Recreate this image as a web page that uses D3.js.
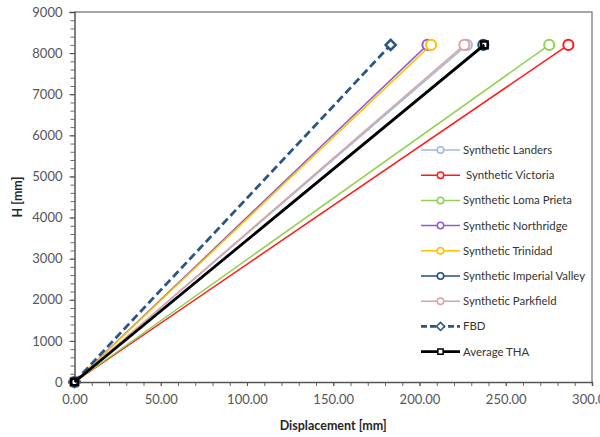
<!DOCTYPE html>
<html>
<head>
<meta charset="utf-8">
<script src="https://cdn.jsdelivr.net/npm/d3@7"></script>
<style>
  body { margin: 0; background: #fff; }
  svg { display: block; font-family: Lato, "Open Sans", sans-serif; }
</style>
</head>
<body>
<div class="chart"></div>
<script>
// data
var seriesNames = ["Synthetic Landers", "Synthetic Victoria", "Synthetic Loma Prieta",
  "Synthetic Northridge", "Synthetic Trinidad", "Synthetic Imperial Valley",
  "Synthetic Parkfield", "FBD", "Average THA"];
var heights = [0, 8200];
var displacements = [
  [0, 227.5],
  [0, 286.3],
  [0, 275.2],
  [0, 204.6],
  [0, 206.7],
  [0, 237.0],
  [0, 226.0],
  [0, 183.3],
  [0, 237.6]
];
var xTicks = [0, 50, 100, 150, 200, 250, 300];
var yTicks = [0, 1000, 2000, 3000, 4000, 5000, 6000, 7000, 8000, 9000];

// styles
var colors = ["#9dbbe0", "#ff1a1a", "#92d050", "#8e5cc8", "#ffc000", "#254e80", "#dba3a3", "#2a5585", "#000000"];
var widths = [1.5, 1.5, 1.5, 1.5, 1.5, 1.5, 1.5, 2.8, 2.8];

var svgWidth = 600;
var svgHeight = 437;
var margin = { top: 12, right: 8, bottom: 55, left: 74.5 };
var width = svgWidth - margin.left - margin.right;
var height = svgHeight - margin.top - margin.bottom;

var svg = d3.select(".chart")
  .append("svg")
  .attr("width", svgWidth)
  .attr("height", svgHeight);

var chartGroup = svg.append("g")
  .attr("transform", `translate(${margin.left}, ${margin.top})`);

var xScale = d3.scaleLinear().domain([0, 300]).range([0, width]);
var yScale = d3.scaleLinear().domain([0, 9000]).range([height, 0]);

// plot frame (top + right)
chartGroup.append("path")
  .attr("d", `M0,0H${width}V${height}`)
  .attr("fill", "none")
  .attr("stroke", "#8a8a8a")
  .attr("stroke-width", 1.5);

// minor ticks
var xMinor = d3.range(0, 301, 10);
var yMinor = d3.range(0, 9001, 200);

chartGroup.append("g")
  .attr("transform", `translate(0, ${height})`)
  .call(d3.axisBottom(xScale).tickValues(xMinor).tickSize(4).tickFormat(""))
  .call(g => g.select(".domain").remove())
  .selectAll("line").attr("stroke", "#6b6b6b");

chartGroup.append("g")
  .call(d3.axisLeft(yScale).tickValues(yMinor).tickSize(4).tickFormat(""))
  .call(g => g.select(".domain").remove())
  .selectAll("line").attr("stroke", "#6b6b6b");

// main axes
var bottomAxis = d3.axisBottom(xScale).tickValues(xTicks).tickSize(4).tickPadding(9)
  .tickFormat(d3.format(".2f"));
var leftAxis = d3.axisLeft(yScale).tickValues(yTicks).tickSize(5).tickPadding(7)
  .tickFormat(d3.format("d"));

var xAxisG = chartGroup.append("g")
  .attr("transform", `translate(0, ${height})`)
  .call(bottomAxis);
var yAxisG = chartGroup.append("g")
  .call(leftAxis);

[xAxisG, yAxisG].forEach(function(g) {
  g.select(".domain").attr("stroke", "#555").attr("stroke-width", 1.5);
  g.selectAll("line").attr("stroke", "#555");
  g.selectAll("text")
    .attr("font-family", "Lato, sans-serif")
    .attr("font-size", "13px")
    .attr("fill", "#555");
});

// series
var line = d3.line()
  .x(d => xScale(d[0]))
  .y(d => yScale(d[1]));

function markerPath(i, s) {
  if (i === 7) return d3.symbol(d3.symbolDiamond2, s * 13)();
  if (i === 8) return d3.symbol(d3.symbolSquare2, s * 11)();
  return d3.symbol(d3.symbolCircle, s * s * 3.2)();
}

seriesNames.forEach(function(name, i) {
  var pts = displacements[i].map((x, j) => [x, heights[j]]);
  var g = chartGroup.append("g");
  g.append("path")
    .datum(pts)
    .attr("d", line)
    .attr("fill", "none")
    .attr("stroke", colors[i])
    .attr("stroke-width", widths[i])
    .attr("stroke-dasharray", i === 7 ? "8,4" : null);
  g.selectAll("path.mk")
    .data(pts)
    .enter()
    .append("path")
    .attr("class", "mk")
    .attr("transform", d => `translate(${xScale(d[0])}, ${yScale(d[1])})`)
    .attr("d", markerPath(i, 5))
    .attr("fill", i === 8 ? "none" : "#fff")
    .attr("stroke", colors[i])
    .attr("stroke-width", i >= 7 ? 2.5 : 2);
});

// legend
var legend = svg.append("g")
  .attr("transform", "translate(421, 150)");

var items = legend.selectAll("g")
  .data(seriesNames)
  .enter()
  .append("g")
  .attr("transform", (d, i) => `translate(0, ${i * 25.2})`);

items.append("line")
  .attr("x1", 0).attr("x2", 39)
  .attr("stroke", (d, i) => colors[i])
  .attr("stroke-width", (d, i) => widths[i])
  .attr("stroke-dasharray", (d, i) => i === 7 ? "6,3" : null);

items.append("path")
  .attr("transform", "translate(19.5, 0)")
  .attr("d", (d, i) => markerPath(i, 3.2))
  .attr("fill", "#fff")
  .attr("stroke", (d, i) => colors[i])
  .attr("stroke-width", 1.5);

items.append("text")
  .attr("x", (d, i) => i === 1 ? 45 : 42)
  .attr("dy", "0.35em")
  .attr("font-size", "11.4px")
  .attr("fill", "#333")
  .text(d => d);

// axis titles
svg.append("text")
  .attr("transform", "rotate(-90)")
  .attr("x", -197)
  .attr("y", 22)
  .attr("text-anchor", "middle")
  .attr("font-weight", "bold")
  .attr("font-size", "12.5px")
  .attr("fill", "#262626")
  .text("H [mm]");

svg.append("text")
  .attr("x", margin.left + width / 2)
  .attr("y", 430)
  .attr("text-anchor", "middle")
  .attr("font-weight", "bold")
  .attr("font-size", "12.5px")
  .attr("fill", "#262626")
  .text("Displacement [mm]");
</script>
</body>
</html>
